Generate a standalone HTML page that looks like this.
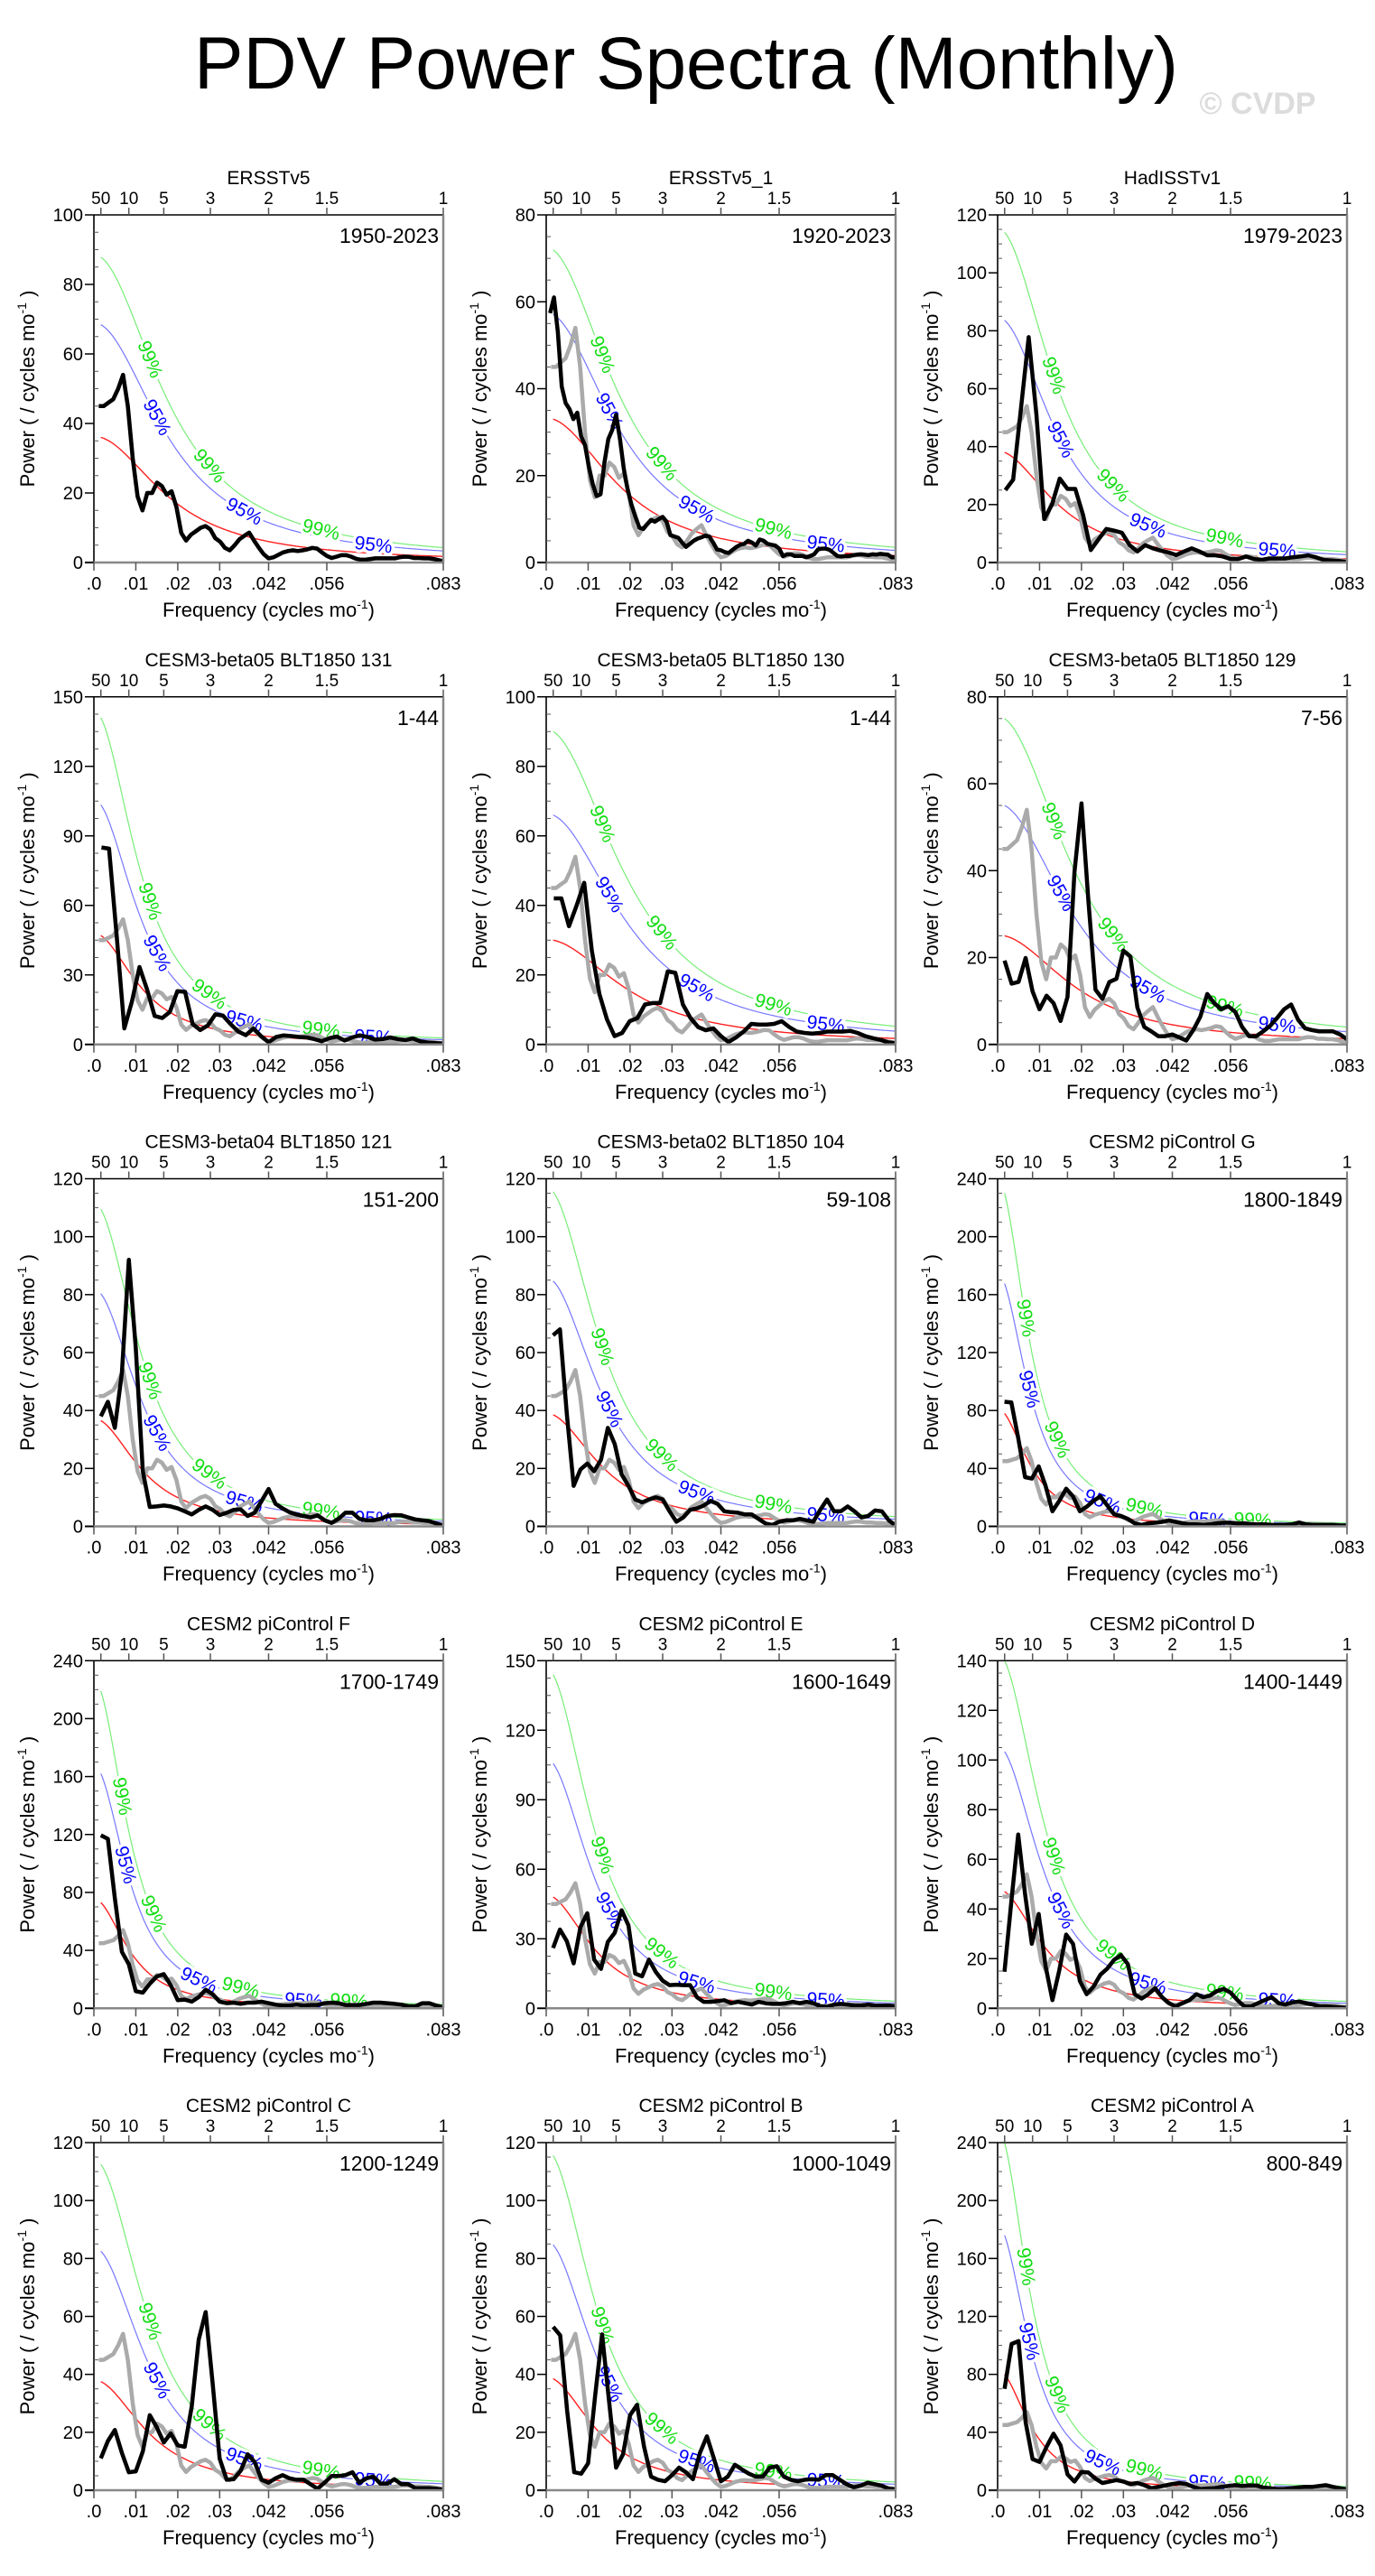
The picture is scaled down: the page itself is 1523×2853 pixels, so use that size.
<!DOCTYPE html>
<html><head><meta charset="utf-8"><title>PDV Power Spectra (Monthly)</title>
<style>
html,body{margin:0;padding:0;background:#fff;}
svg{display:block;font-family:"Liberation Sans",Arial,sans-serif;}
</style></head>
<body>
<svg id="chart" xmlns="http://www.w3.org/2000/svg" width="1523" height="2853" viewBox="0 0 1523 2853">
<rect x="0" y="0" width="1523" height="2853" fill="#fff"/>
<text x="760" y="98" text-anchor="middle" font-size="82" textLength="1090" lengthAdjust="spacingAndGlyphs" fill="#000">PDV Power Spectra (Monthly)</text>
<text x="1393" y="126" text-anchor="middle" font-size="34" font-weight="bold" fill="#dcdcdc">© CVDP</text>
</svg>
<script>
const panelTitles = ["ERSSTv5","ERSSTv5_1","HadISSTv1","CESM3-beta05 BLT1850 131","CESM3-beta05 BLT1850 130","CESM3-beta05 BLT1850 129","CESM3-beta04 BLT1850 121","CESM3-beta02 BLT1850 104","CESM2 piControl G","CESM2 piControl F","CESM2 piControl E","CESM2 piControl D","CESM2 piControl C","CESM2 piControl B","CESM2 piControl A"];
const panelYears = ["1950-2023","1920-2023","1979-2023","1-44","1-44","7-56","151-200","59-108","1800-1849","1700-1749","1600-1649","1400-1449","1200-1249","1000-1049","800-849"];
const yMax = [100,80,120,150,100,80,120,120,240,240,150,140,120,120,240];
const yStep = [20,20,20,30,20,20,20,20,40,40,30,20,20,20,40];
const xTickValues = [0,0.01,0.02,0.03,1/24,1/18,1/12];
const xTickLabels = [".0",".01",".02",".03",".042",".056",".083"];
const periodTickYears = [50,10,5,3,2,1.5,1];
const periodTickLabels = ["50","10","5","3","2","1.5","1"];
const redStart = [36,33,38,47,30,25,36.5,38.5,78,73,48,47,37.5,38.5,80];
const redLag1 = [0.89,0.89,0.91,0.93,0.88,0.885,0.927,0.915,0.95,0.945,0.927,0.93,0.918,0.922,0.948];
const conf95Factor = [1.9,1.73,2.2,2.2,2.2,2.2,2.2,2.2,2.15,2.22,2.2,2.2,2.2,2.2,2.2];
const conf99Factor = [2.44,2.18,3.0,3.0,3.0,3.0,3.0,3.0,2.95,3.0,3.0,2.98,3.0,3.0,3.0];
const obsGray = [45,45,46,47,50,54,45,30,19,15,20,20,23,22,19.5,20.5,16,8.5,6.3,8,9,10,10.5,9.5,7,6,4.2,3.5,5,6.7,7.7,8.6,6.3,4.2,2.4,1.2,1.5,2.2,2.9,3.3,3.5,3.3,3.5,3.8,4.2,4,2.9,1.9,1.3,1.7,2.1,2.1,1.7,1.1,0.8,0.8,1,1.2,1.2,1.2,1.2,1.2,1.5,1.7,1.6,1.3,1.3,1.2,1.2,1,0.7,0.4];
const s1 = obsGray;
const s2 = [57.4,61,53,40.5,36.7,35.3,33,34.5,29,27,22,18,15.3,15.7,23,28.4,30.5,34,28.4,21.5,16.7,13.2,10.5,8,7.7,8.8,9.8,9.4,10,10.5,9.4,6.3,6,5.7,4.6,3.6,4.3,5,5.5,5.8,6.2,6,4.6,3,2.8,2.4,2.2,2.9,3.6,4.1,4.3,5,4.6,3.9,5.3,5,4.3,4.1,3.9,3.2,1.5,1.9,1.9,1.5,1.5,1.5,1.2,1.5,1.9,3,3.2,3.2,2.9,2.2,1.5,1.4,1.5,1.5,1.7,1.8,1.9,1.8,1.7,1.9,1.8,2,1.9,1.8,1.2,1.2];
const s3 = [25,28.6,53,77.8,51,15,20,29,25.4,25.4,16.5,4.3,8,11.6,11,10.3,6,3.8,6,4.9,4.1,3.5,2.6,3.8,4.9,3.8,2.5,2.5,2.1,1.2,1.2,2.1,1.2,0.9,1.4,1.4,1.4,1.8,2.1,2.5,1.8,0.9,0.7,0.5,0.2];
const s4 = [85,84.5,47,6.9,18.5,33.4,23.7,12.3,11.4,14,23,22.7,8.8,6.2,8.2,13,12.4,8.8,5.6,4,6.9,3.6,1,3.2,3.9,3.6,3.2,3,2.3,1.4,2.7,3.4,1.7,3,3.9,3.2,2.1,2.3,3,2.3,1.9,2.6,1.3,0.8,0.6,0.4];
const s5 = [42,42,34,40,46.5,27,14.5,7.2,2.4,3.3,6.7,7.6,11.5,11.9,11.9,21,20.6,11.5,7.6,5,4.1,4.6,2.4,0.7,2,3.7,5.9,5.7,5.7,5.9,6.7,5,3.7,3.3,3.1,3.3,3.7,3.7,3.7,3.9,3.3,2.4,1.8,1.3,0.6,0.4];
const s6 = [19.3,14,14.4,19.9,12.2,8.1,11.2,9.5,5.4,10.9,39.6,55.5,32.9,12.6,10.5,14.4,15.1,21.6,20.2,8.5,4,3,1.9,1.9,2.3,1.6,0.9,3.3,6.4,11.6,9.5,8.1,8.8,7.5,4,1.9,1.9,3,4.3,6.1,8.1,9.2,5.7,3.7,3.3,3,3,3,2.3,1.2];
const s7 = [38,43,34,53,92,61.5,19,6.7,6.9,7.2,6.9,6.2,5.2,4.1,5.7,6.9,5.7,3.9,4.7,5.7,5.9,3.6,4.7,8.8,12.9,7.8,6.2,4.9,4.1,3.6,3.1,3.8,2.1,1.2,2.6,4.7,4.7,2.6,2.1,2.1,2.6,3.6,3.9,3.8,3.1,2.4,2.1,1.8,1,0.3];
const s8 = [66,68,39,14,19.6,21.7,19,23,34,28.4,18,14,9.3,8.3,9.3,10,9.3,5.2,1.6,3.1,5.7,6.2,7.2,8.8,7.8,5.2,4.9,4.7,4.1,4.1,2.6,1,0.5,1.6,2.1,2.1,2.6,2.1,1.6,5.7,9.3,5.2,5.2,6.9,5.2,3.1,3.6,5.5,5.2,2.1,0.3];
const s9 = [86,85.5,61,34,33,41.4,28,10.4,17.6,26,20.7,10.4,13.5,17.6,20.7,14.5,8.3,7.2,5.2,2.1,1,2.1,2.5,3.1,4.1,3.1,2.1,1.4,1.4,1,1.4,2.1,2.5,2.5,2.1,2.1,1.4,1.4,1.4,1,1,1,1.4,2.7,1.4,1,1,1,1,0.6,0.6];
const s10 = [119.5,117,76,39,30.4,11.8,10.8,17,22,23.6,16,5.6,6,4.6,7.7,12.8,9.7,4.6,3.5,3.9,3.1,3.9,3.9,4.6,3.5,2.5,1.9,1.9,2.5,1.9,2.3,2.3,3.5,3.9,3.5,2.3,2.3,2.3,3.1,3.9,3.9,3.5,3.1,2.5,1.4,1.4,3.5,3.5,1.9,0.8];
const s11 = [26,34,29,19.4,35,41,21,17,28.7,32.6,42.3,35.8,15,13.8,21,15.7,11.9,10,10.2,10,10,4.8,2.8,2.8,3.1,3.5,2.2,2.8,2.2,1.6,2.8,2.2,1.9,1.9,2.2,2.8,2.2,2.8,2.2,0.9,0.6,1.6,1.9,1.6,1.2,1.2,1.6,1.2,1.2,1.2,0.9];
const s12 = [14.7,43,70,46,26,38,17,3.3,15.3,29.7,26,11,5.7,8.7,13.5,16,19.5,21.4,17.8,5.7,3.9,5.7,8.1,4.5,2.1,0.8,2.1,3.3,5.7,4.5,5.1,6.9,7.8,6.3,3.3,0.8,0.8,2.1,3.3,4.5,2.1,1.5,2.4,2.7,2.1,1.5,0.8,0.8,0.6,0.4,0.2];
const s13 = [11,17,20.8,12.9,6.2,6.5,13.4,25.9,21.7,16.5,19.6,15.5,15,29,52,61.5,36.7,10.9,3.6,3.8,6.7,12.4,9.8,3.6,2.6,4.1,5.2,4.1,3.6,3.6,2.1,0.5,2.6,4.9,4.9,5.2,6.2,2.6,4.1,4.7,2.3,2.3,3.8,2.1,2.1,0.7,0.7,0.7,0.5,0.2];
const s14 = [56.4,53.5,27.4,6.2,5.7,9.3,32.6,53.8,30.5,7.8,12.4,25.9,29.5,15,4.7,3.6,3.1,5.2,7.8,6.2,3.8,12.9,18.6,10.9,3.1,4.7,8.8,7.2,5.7,4.7,4.7,7.8,8.3,4.7,3.6,3.1,3.6,3.8,3.6,5.2,5.2,3.6,2.1,1,1.6,2.6,2.1,1.6,0.5,0.3];
const s15 = [70,101,103,47,21.5,19.5,30,39,31,11,6,12.6,12.2,8,5,6,7,6,4.3,5,3.5,1.4,2.3,3.3,4.3,5,4.3,2.3,0.8,1.2,1.4,2.3,2.9,3.5,2.9,3.3,3.3,1.9,1.4,0.8,0.8,1.4,1.9,2.3,2.3,2.9,3.5,2.3,1.4,0.6];
const blackSeries = [s1,s2,s3,s4,s5,s6,s7,s8,s9,s10,s11,s12,s13,s14,s15];

const NS = "http://www.w3.org/2000/svg";
const svg = document.getElementById("chart");
const PW = 387, PH = 385, FMAX = 1/12, F0 = 1/600;
const colLeft = [104, 605, 1105];
function mk(tag, attrs, parent){ const e = document.createElementNS(NS, tag); for (const k in attrs) e.setAttribute(k, attrs[k]); (parent||svg).appendChild(e); return e; }

for (let p = 0; p < 15; p++) {
  const L = colLeft[p % 3], T = 238 + Math.floor(p / 3) * 533.75, B = T + PH, R = L + PW;
  const ymax = yMax[p];
  const xs = f => L + f / FMAX * PW;
  const ys = v => B - v / ymax * PH;
  const g = mk("g", {});
  
  
  const clip = mk("clipPath", {id: "clip" + p}, g);
  mk("rect", {x: L, y: T, width: PW, height: PH}, clip);

  const r = redLag1[p];
  const den = f => 1 + r * r - 2 * r * Math.cos(2 * Math.PI * f);
  const A = redStart[p] * den(F0);
  const red = f => A / den(f);
  const curvePath = (fac) => { let d = ""; for (let i = 0; i <= 200; i++) { const f = F0 + (FMAX - F0) * i / 200; d += (i ? "L" : "M") + xs(f).toFixed(1) + "," + ys(red(f) * fac).toFixed(1); } return d; };
  const curveG = mk("g", {"clip-path": "url(#clip" + p + ")"}, g);
  const c99 = mk("path", {d: curvePath(conf99Factor[p]), fill: "none", stroke: "#77ee77", "stroke-width": 1.2}, curveG);
  
  
  const c95 = mk("path", {d: curvePath(conf95Factor[p]), fill: "none", stroke: "#7777ff", "stroke-width": 1.2}, curveG);
  
  
  const cr = mk("path", {d: curvePath(1), fill: "none", stroke: "#ff2020", "stroke-width": 1.4}, curveG);
  
  

  const addLabels = (fac, fracs, txt, col, nm) => {
    fracs.forEach(fr => {
      const f = fr * FMAX, df = 0.0005;
      const x1 = xs(f - df), y1 = ys(red(f - df) * fac), x2 = xs(f + df), y2 = ys(red(f + df) * fac);
      const ang = Math.atan2(y2 - y1, x2 - x1) * 180 / Math.PI;
      const cx = xs(f), cy = ys(red(f) * fac);
      const t = mk("text", {x: cx, y: cy, "text-anchor": "middle", "dominant-baseline": "central", "font-size": 21, fill: col, stroke: "#fff", "stroke-width": 7, "paint-order": "stroke", transform: "rotate(" + ang.toFixed(1) + " " + cx.toFixed(1) + " " + cy.toFixed(1) + ")"}, g);
      t.textContent = txt;
      
      
    });
  };
  const steep = r >= 0.94;
  addLabels(conf99Factor[p], steep ? [0.08, 0.17, 0.42, 0.73] : [0.16, 0.33, 0.65], "99%", "#11dd11", "label-99");
  addLabels(conf95Factor[p], steep ? [0.09, 0.3, 0.6] : [0.18, 0.43, 0.8], "95%", "#0000ff", "label-95");

  const seriesPath = arr => { const n = arr.length; return arr.map((v, i) => (i ? "L" : "M") + xs((i + 1) / n * FMAX).toFixed(1) + "," + ys(v).toFixed(1)).join(""); };
  const sg = mk("g", {"clip-path": "url(#clip" + p + ")"}, g);
  const gp = mk("path", {d: seriesPath(obsGray), fill: "none", stroke: "#aaaaaa", "stroke-width": 4.5, "stroke-linejoin": "round"}, sg);
  
  
  const bp = mk("path", {d: seriesPath(blackSeries[p]), fill: "none", stroke: "#000", "stroke-width": 4.5, "stroke-linejoin": "round"}, sg);
  
  

  mk("line", {x1: L, y1: T, x2: R, y2: T, stroke: "#000", "stroke-width": 1.6}, g);
  mk("line", {x1: L, y1: T, x2: L, y2: B, stroke: "#000", "stroke-width": 1.6}, g);
  mk("line", {x1: R, y1: T, x2: R, y2: B, stroke: "#888", "stroke-width": 2.5}, g);
  mk("line", {x1: L - 10, y1: B, x2: R, y2: B, stroke: "#888", "stroke-width": 2.5}, g);

  const step = yStep[p];
  for (let v = 0; v <= ymax + 1e-6; v += step / 4) {
    const y = ys(v);
    const major = Math.abs(v / step - Math.round(v / step)) < 1e-6;
    if (major) {
      mk("line", {x1: L - 10, y1: y, x2: L, y2: y, stroke: "#000", "stroke-width": 1.5}, g);
      const t = mk("text", {x: L - 12, y: y + 7, "text-anchor": "end", "font-size": 20, fill: "#000"}, g);
      t.textContent = String(Math.round(v));
      
      
    } else {
      mk("line", {x1: L, y1: y, x2: L + 5, y2: y, stroke: "#555", "stroke-width": 1}, g);
    }
  }
  xTickValues.forEach((f, i) => {
    const x = xs(f);
    mk("line", {x1: x, y1: B, x2: x, y2: B + 9, stroke: "#555", "stroke-width": 1.5}, g);
    const t = mk("text", {x: x, y: B + 30, "text-anchor": "middle", "font-size": 20, fill: "#000"}, g);
    t.textContent = xTickLabels[i];
    
    
  });
  periodTickYears.forEach((yr, i) => {
    const x = xs(1 / (yr * 12));
    mk("line", {x1: x, y1: T - 8, x2: x, y2: T, stroke: "#555", "stroke-width": 1.5}, g);
    const t = mk("text", {x: x, y: T - 12, "text-anchor": "middle", "font-size": 19, fill: "#000"}, g);
    t.textContent = periodTickLabels[i];
    
    
  });
  const tt = mk("text", {x: (L + R) / 2, y: T - 34, "text-anchor": "middle", "font-size": 21, fill: "#000"}, g);
  tt.textContent = panelTitles[p];
  
  
  const yr = mk("text", {x: R - 5, y: T + 31, "text-anchor": "end", "font-size": 23, fill: "#000"}, g);
  yr.textContent = panelYears[p];
  
  
  const xt = mk("text", {x: (L + R) / 2, y: B + 60, "text-anchor": "middle", "font-size": 22, fill: "#000"}, g);
  xt.innerHTML = 'Frequency (cycles mo<tspan dy="-9" font-size="14">-1</tspan><tspan dy="9">)</tspan>';
  
  
  const yx = L - 66, yy = (T + B) / 2;
  const yt = mk("text", {x: yx, y: yy, "text-anchor": "middle", "font-size": 22, fill: "#000", transform: "rotate(-90 " + yx + " " + yy + ")"}, g);
  yt.innerHTML = 'Power ( / cycles mo<tspan dy="-9" font-size="14">-1</tspan><tspan dy="9"> )</tspan>';
  
  
}
</script>
</body></html>
